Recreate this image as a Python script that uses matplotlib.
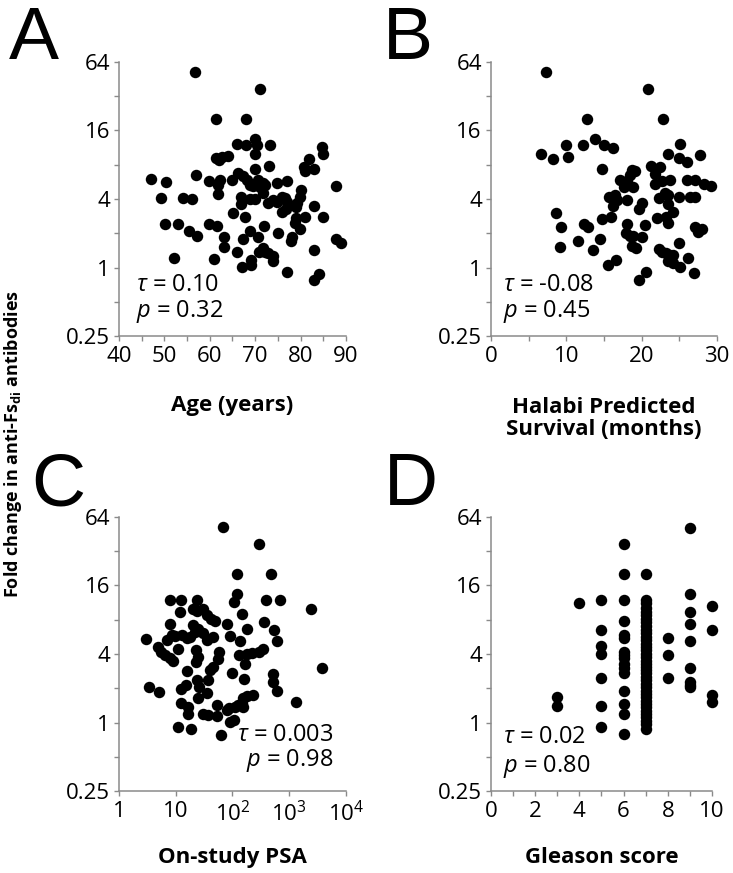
import matplotlib
matplotlib.use('Agg')
import matplotlib.pyplot as plt
from matplotlib.ticker import FixedLocator, NullLocator, NullFormatter

plt.rcParams['font.family'] = ['Open Sans', 'DejaVu Sans']
plt.rcParams['mathtext.fontset'] = 'custom'
plt.rcParams['mathtext.rm'] = 'Open Sans'
plt.rcParams['mathtext.it'] = 'Open Sans:italic'
plt.rcParams['mathtext.bf'] = 'Open Sans:bold'

# ---- panel A: age ----
age_years = [56.8, 71.0, 61.3, 68.0, 66.0, 68.0, 69.9, 70.4, 73.2, 69.9,
             61.4, 62.1, 62.6, 64.1, 84.8, 84.9, 81.9, 80.8, 81.0, 83.0,
             73.0, 69.9, 47.1, 50.4, 57.0, 59.9, 62.3, 61.9, 65.0, 66.3,
             67.3, 68.2, 68.9, 70.7, 71.7, 69.6, 71.1, 72.2, 74.8, 77.0,
             87.8, 49.2, 54.0, 56.0, 61.9, 66.9, 68.9, 70.0, 71.8, 72.9,
             73.9, 74.8, 75.9, 76.6, 77.0, 75.9, 76.8, 79.2, 79.8, 80.1,
             79.0, 66.9, 65.1, 67.8, 83.0, 81.0, 84.9, 50.1, 53.1, 55.4,
             57.1, 59.8, 61.6, 63.2, 72.0, 68.9, 70.7, 75.0, 79.0, 78.7,
             79.9, 78.1, 77.9, 67.4, 52.2, 61.0, 63.2, 66.0, 67.1, 69.0,
             69.0, 70.9, 71.8, 72.2, 72.9, 74.0, 74.0, 77.0, 82.9, 82.9,
             84.0, 87.8, 88.8]
fold_age = [52.7, 37.0, 20.3, 20.3, 12.1, 12.0, 13.6, 12.0, 12.0, 9.9,
            9.1, 8.8, 9.4, 9.6, 11.4, 9.9, 9.0, 7.7, 7.0, 7.3,
            7.8, 7.4, 6.0, 5.6, 6.5, 5.8, 5.9, 5.3, 5.9, 6.8,
            6.4, 5.9, 5.3, 5.9, 5.5, 5.2, 5.1, 5.3, 5.5, 5.8,
            5.2, 4.1, 4.1, 4.0, 4.4, 4.2, 4.0, 4.0, 4.5, 3.7,
            3.9, 3.8, 4.2, 4.1, 3.8, 3.1, 3.3, 3.7, 4.2, 4.8,
            3.4, 3.6, 3.0, 2.8, 3.5, 2.8, 2.8, 2.4, 2.4, 2.1,
            1.9, 2.4, 2.3, 1.87, 2.3, 2.1, 1.84, 2.0, 2.7, 2.45,
            2.2, 1.84, 1.7, 1.77, 1.2, 1.18, 1.5, 1.38, 1.01, 1.16,
            1.05, 1.38, 1.47, 1.38, 1.33, 1.25, 1.13, 0.91, 1.42, 0.78,
            0.88, 1.77, 1.64]

# ---- panel B: Halabi predicted survival ----
halabi_months = [7.3, 20.8, 12.8, 22.8, 13.8, 10.0, 12.2, 15.0, 16.2, 6.6,
                 8.3, 10.2, 25.1, 23.5, 24.9, 26.0, 27.7, 14.7, 21.2, 22.4,
                 18.7, 19.1, 18.5, 17.1, 18.0, 18.9, 17.6, 21.8, 21.8, 22.7,
                 23.8, 26.0, 27.1, 15.7, 16.4, 16.7, 18.0, 16.2, 19.6, 20.1,
                 22.3, 23.1, 23.5, 24.9, 26.4, 27.1, 23.5, 24.2, 23.3, 22.0,
                 23.5, 8.7, 9.3, 12.3, 12.9, 14.7, 16.0, 18.0, 17.9, 18.4,
                 18.8, 20.0, 20.5, 11.6, 14.5, 13.5, 9.1, 18.7, 19.3, 22.3,
                 22.7, 23.3, 23.8, 24.2, 24.9, 23.5, 24.2, 25.1, 26.1, 15.6,
                 16.6, 19.6, 20.6, 27.0, 27.1, 27.5, 28.3, 29.2, 28.0]
fold_halabi = [52.7, 37.0, 20.3, 20.3, 13.6, 12.0, 11.9, 12.0, 11.3, 9.9,
               9.0, 9.4, 12.1, 9.9, 9.1, 8.5, 9.7, 7.4, 7.8, 7.7,
               7.2, 7.0, 6.5, 5.9, 5.7, 5.1, 5.1, 6.7, 5.4, 5.7,
               5.9, 5.9, 5.9, 4.2, 4.3, 3.9, 3.9, 3.5, 3.3, 3.7,
               4.1, 4.5, 4.3, 4.2, 4.2, 4.2, 3.6, 3.1, 2.8, 2.7,
               2.45, 3.0, 2.25, 2.4, 2.25, 2.66, 2.8, 2.4, 2.0, 1.9,
               1.9, 1.84, 2.37, 1.72, 1.77, 1.42, 1.5, 1.53, 1.47, 1.44,
               1.38, 1.35, 1.28, 1.28, 1.64, 1.13, 1.09, 1.01, 1.2, 1.06,
               1.16, 0.78, 0.91, 0.89, 2.28, 2.07, 5.4, 5.2, 2.2]

# ---- panel C: on-study PSA ----
psa = [67, 295, 118, 478, 122, 107, 383, 690, 2400, 7.9,
       12.4, 24, 11.8, 20, 24, 29.7, 35, 41.5, 49, 145,
       7.9, 20, 25, 81, 178, 360, 540, 600, 3.0, 6.9,
       8.5, 9.7, 12.7, 15.6, 17.8, 21.8, 30.7, 35, 46, 91,
       135, 11.1, 4.9, 5.6, 6.5, 7.9, 9.1, 23, 25, 22.8,
       58.5, 56, 45, 132, 178, 218, 288, 350, 166, 3800,
       15.6, 40, 97, 162, 525, 510, 615, 3.4, 5.0, 12.4,
       15.1, 24, 37.5, 26, 35, 24.4, 12.4, 16.2, 16.6, 30.7,
       37.5, 52.5, 52.5, 79, 88, 110, 126, 145, 155, 178,
       234, 155, 91, 107, 1320, 11.1, 18.6, 62]
fold_psa = [52.7, 37.0, 20.3, 20.3, 13.6, 11.4, 12.0, 11.9, 9.9, 12.0,
            12.0, 12.0, 9.4, 9.9, 9.6, 10.0, 8.8, 8.2, 7.8, 9.0,
            7.3, 7.2, 6.7, 7.4, 6.7, 7.7, 6.5, 5.2, 5.4, 5.3,
            5.9, 5.8, 5.9, 5.5, 5.7, 6.3, 6.1, 5.3, 5.7, 5.8,
            5.2, 4.4, 4.6, 4.2, 3.9, 3.7, 3.5, 4.3, 3.8, 3.4,
            4.2, 3.6, 3.1, 3.9, 4.0, 4.1, 4.2, 4.4, 3.25, 3.0,
            2.85, 2.9, 2.7, 2.4, 2.66, 2.28, 1.9, 2.04, 1.84, 1.97,
            2.13, 2.37, 2.37, 2.07, 1.8, 1.64, 1.47, 1.38, 1.2, 1.18,
            1.16, 1.13, 1.42, 1.28, 1.33, 1.38, 1.42, 1.47, 1.64, 1.72,
            1.74, 1.38, 1.01, 1.05, 1.5, 0.91, 0.88, 0.78]

# ---- panel D: Gleason score ----
gleason = [3, 3,
           4,
           5, 5, 5, 5, 5, 5, 5,
           6, 6, 6, 6, 6, 6, 6, 6, 6, 6, 6, 6, 6, 6, 6, 6,
           7, 7, 7, 7, 7, 7, 7, 7, 7, 7, 7, 7, 7, 7, 7, 7, 7, 7, 7, 7,
           7, 7, 7, 7, 7, 7, 7, 7, 7, 7, 7, 7, 7, 7, 7, 7, 7, 7, 7,
           8, 8, 8,
           9, 9, 9, 9, 9, 9, 9, 9, 9,
           10, 10, 10, 10]
fold_gleason = [1.68, 1.4,
                11.3,
                12.0, 6.5, 4.7, 4.0, 2.46, 1.39, 0.92,
                36.8, 20.2, 12.0, 7.8, 5.9, 5.5, 4.2, 3.9, 3.7, 3.3, 3.0, 2.7,
                1.9, 1.45, 1.19, 0.8,
                20.2, 12.0, 11.2, 10.2, 9.4, 8.8, 8.1, 7.6, 7.1, 6.5, 6.1, 5.7,
                5.3, 4.9, 4.6, 4.3, 4.0, 3.8, 3.5, 3.3, 3.1, 2.9, 2.7, 2.5,
                2.35, 2.2, 2.04, 1.9, 1.78, 1.67, 1.56, 1.45, 1.36, 1.27, 1.19,
                1.11, 1.04, 0.97, 0.87,
                5.5, 3.95, 2.45,
                51.6, 13.6, 9.4, 7.3, 5.2, 3.0, 2.27, 2.14, 2.04,
                10.5, 6.5, 1.75, 1.5]

fold_ticks = [0.25, 1, 4, 16, 64]
fold_tick_labels = ['0.25', '1', '4', '16', '64']
fold_minor = [0.5, 2, 8, 32]

GREY = '#8a8a8a'
TICK_FS = 16
LABEL_FS = 16
STAT_FS = 17


def style_axes(ax, xlim, xmajor, xlabels, xminor, xlabel, label_y):
    ax.set_yscale('log', base=2)
    ax.set_ylim(0.25, 64)
    ax.yaxis.set_major_locator(FixedLocator(fold_ticks))
    ax.yaxis.set_minor_locator(FixedLocator(fold_minor))
    ax.yaxis.set_minor_formatter(NullFormatter())
    ax.set_yticklabels(fold_tick_labels)
    ax.set_xlim(*xlim)
    ax.set_xticks(xmajor)
    ax.set_xticklabels(xlabels)
    if xminor:
        ax.xaxis.set_minor_locator(FixedLocator(xminor))
    else:
        ax.xaxis.set_minor_locator(NullLocator())
    ax.xaxis.set_minor_formatter(NullFormatter())
    for side in ('top', 'right'):
        ax.spines[side].set_visible(False)
    for side in ('left', 'bottom'):
        ax.spines[side].set_color(GREY)
        ax.spines[side].set_linewidth(1.1)
    ax.tick_params(which='both', direction='out', length=3.5, width=1.0,
                   color=GREY, labelsize=TICK_FS, labelcolor='black')
    ax.tick_params(axis='x', pad=4)
    ax.tick_params(axis='y', pad=3)
    ax.set_xlabel(xlabel, fontsize=LABEL_FS, fontweight='bold', va='center',
                  linespacing=1.05)
    ax.xaxis.set_label_coords(0.5, label_y)


def add_stats(ax, tau, p, x, y_tau, y_p, ha='left'):
    ax.text(x, y_tau, r'$\tau$' + f' = {tau}', transform=ax.transAxes,
            fontsize=STAT_FS, ha=ha, va='center')
    ax.text(x, y_p, r'$p$' + f' = {p}', transform=ax.transAxes,
            fontsize=STAT_FS, ha=ha, va='center')


fig = plt.figure(figsize=(7.33, 8.73), dpi=100)
ax_a = fig.add_axes([0.1623, 0.6151, 0.3097, 0.3139])
ax_b = fig.add_axes([0.6698, 0.6151, 0.3083, 0.3139])
ax_c = fig.add_axes([0.1623, 0.0939, 0.3097, 0.3139])
ax_d = fig.add_axes([0.6698, 0.0939, 0.3015, 0.3139])

dot = dict(s=68, color='black', linewidths=0, clip_on=False, zorder=3)

ax_a.scatter(age_years, fold_age, **dot)
style_axes(ax_a, (40, 90), [40, 50, 60, 70, 80, 90],
           ['40', '50', '60', '70', '80', '90'], [45, 55, 65, 75, 85],
           'Age (years)', -0.252)
add_stats(ax_a, '0.10', '0.32', 0.075, 0.186, 0.091)

ax_b.scatter(halabi_months, fold_halabi, **dot)
style_axes(ax_b, (0, 30), [0, 10, 20, 30], ['0', '10', '20', '30'],
           [5, 15, 25], 'Halabi Predicted\nSurvival (months)', -0.30)
add_stats(ax_b, '-0.08', '0.45', 0.055, 0.186, 0.091)

ax_c.scatter(psa, fold_psa, **dot)
ax_c.set_xscale('log')
style_axes(ax_c, (1, 1e4), [1, 10, 100, 1000, 10000],
           ['1', '10', r'10$^2$', r'10$^3$', r'10$^4$'], None,
           'On-study PSA', -0.241)
add_stats(ax_c, '0.003', '0.98', 0.945, 0.204, 0.113, ha='right')

ax_d.scatter(gleason, fold_gleason, **dot)
style_axes(ax_d, (0, 10), [0, 2, 4, 6, 8, 10], ['0', '2', '4', '6', '8', '10'],
           [1, 3, 5, 7, 9], 'Gleason score', -0.241)
add_stats(ax_d, '0.02', '0.80', 0.055, 0.197, 0.091)

# panel letters
for letter, x, y in [('A', 0.012, 0.932), ('B', 0.523, 0.932),
                     ('C', 0.043, 0.421), ('D', 0.524, 0.421)]:
    fig.text(x, y, letter, fontsize=54, ha='left', va='baseline',
             family='Liberation Sans')

fig.text(0.018, 0.491, r'Fold change in anti-Fs$_{\mathbf{di}}$ antibodies',
         rotation=90, ha='center', va='center', fontsize=13, fontweight='bold')

fig.savefig('out.png', dpi=100)
